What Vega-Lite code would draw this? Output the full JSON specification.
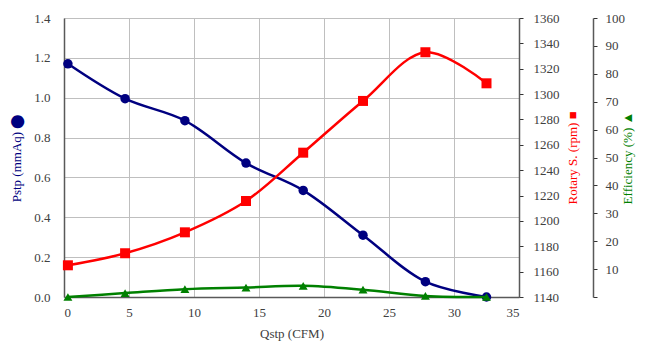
{
  "$schema": "https://vega.github.io/schema/vega-lite/v6.json",
  "autosize": {"type": "none"},
  "padding": {"left": 64, "top": 18, "right": 129, "bottom": 59},
  "width": 455,
  "height": 279,
  "background": "white",
  "data": {
    "values": [
      {"q": 0.3, "pstp": 1.17, "rpm": 1165, "eff": 0.0},
      {"q": 4.7, "pstp": 0.995, "rpm": 1174.5, "eff": 1.4},
      {"q": 9.3, "pstp": 0.885, "rpm": 1191, "eff": 2.8},
      {"q": 14.0, "pstp": 0.672, "rpm": 1215.7, "eff": 3.4},
      {"q": 18.4, "pstp": 0.535, "rpm": 1253.8, "eff": 4.0},
      {"q": 23.0, "pstp": 0.31, "rpm": 1294.6, "eff": 2.6},
      {"q": 27.8, "pstp": 0.077, "rpm": 1333, "eff": 0.4},
      {"q": 32.5, "pstp": 0.0, "rpm": 1308.5, "eff": 0.0}
    ]
  },
  "encoding": {
    "x": {
      "field": "q", "type": "quantitative",
      "scale": {"domain": [0, 35], "nice": false, "zero": false},
      "axis": {
        "title": "Qstp (CFM)", "values": [0, 5, 10, 15, 20, 25, 30, 35],
        "grid": true, "gridColor": "#bfbfbf", "gridWidth": 1,
        "ticks": false, "labelPadding": 9, "titlePadding": 8,
        "labelFont": "Liberation Serif", "titleFont": "Liberation Serif",
        "domainColor": "#595959", "domainWidth": 1.5
      }
    }
  },
  "layer": [
    {
      "encoding": {
        "y": {
          "field": "pstp", "type": "quantitative",
          "scale": {"domain": [0, 1.4], "nice": false},
          "axis": {
            "orient": "left", "title": "Pstp (mmAq) ⬤", "titleColor": "#000080",
            "values": [0, 0.2, 0.4, 0.6, 0.8, 1.0, 1.2, 1.4], "format": ".1f",
            "grid": true, "gridColor": "#bfbfbf", "gridWidth": 1,
            "ticks": false, "labelPadding": 14, "titlePadding": 10,
            "labelFont": "Liberation Serif", "titleFont": "Liberation Serif",
            "domainColor": "#595959", "domainWidth": 1.5
          }
        }
      },
      "layer": [
        {"mark": {"type": "line", "color": "#000080", "strokeWidth": 2.5, "interpolate": "catmull-rom"}},
        {"mark": {"type": "point", "shape": "circle", "filled": true, "opacity": 1, "color": "#000080", "size": 90}}
      ]
    },
    {
      "encoding": {
        "y": {
          "field": "rpm", "type": "quantitative",
          "scale": {"domain": [1140, 1360], "nice": false, "zero": false},
          "axis": {
            "orient": "right", "title": "Rotary S. (rpm) ■", "titleColor": "#ff0000",
            "titleAngle": 270, "titleBaseline": "bottom", "format": "d",
            "values": [1140, 1160, 1180, 1200, 1220, 1240, 1260, 1280, 1300, 1320, 1340, 1360],
            "grid": false, "tickSize": 4, "tickColor": "#333333", "labelPadding": 10, "titlePadding": 20,
            "labelFont": "Liberation Serif", "titleFont": "Liberation Serif",
            "domainColor": "#595959", "domainWidth": 1.5
          }
        }
      },
      "layer": [
        {"mark": {"type": "line", "color": "#ff0000", "strokeWidth": 2.5, "interpolate": "catmull-rom"}},
        {"mark": {"type": "point", "shape": "square", "filled": true, "opacity": 1, "color": "#ff0000", "size": 100}}
      ]
    },
    {
      "encoding": {
        "y": {
          "field": "eff", "type": "quantitative",
          "scale": {"domain": [0, 100], "nice": false},
          "axis": {
            "orient": "right", "offset": 74, "title": "Efficiency (%) ▲", "titleColor": "#008000",
            "titleAngle": 270, "titleBaseline": "bottom",
            "values": [0, 10, 20, 30, 40, 50, 60, 70, 80, 90, 100],
            "labelExpr": "datum.value == 0 ? '' : datum.label",
            "grid": false, "tickSize": 4, "tickColor": "#333333", "labelPadding": 8, "titlePadding": 10,
            "labelFont": "Liberation Serif", "titleFont": "Liberation Serif",
            "domainColor": "#595959", "domainWidth": 1.5
          }
        }
      },
      "layer": [
        {"mark": {"type": "line", "color": "#008000", "strokeWidth": 2.5, "interpolate": "catmull-rom"}},
        {"mark": {"type": "point", "shape": "triangle-up", "filled": true, "opacity": 1, "color": "#008000", "size": 80}}
      ]
    }
  ],
  "resolve": {"scale": {"y": "independent"}, "axis": {"y": "independent"}},
  "config": {
    "view": {"stroke": null},
    "font": "Liberation Serif",
    "axis": {
      "labelFont": "Liberation Serif", "labelFontSize": 13, "labelColor": "#404040",
      "titleFont": "Liberation Serif", "titleFontSize": 13, "titleFontWeight": "normal", "titleColor": "#404040"
    }
  }
}
